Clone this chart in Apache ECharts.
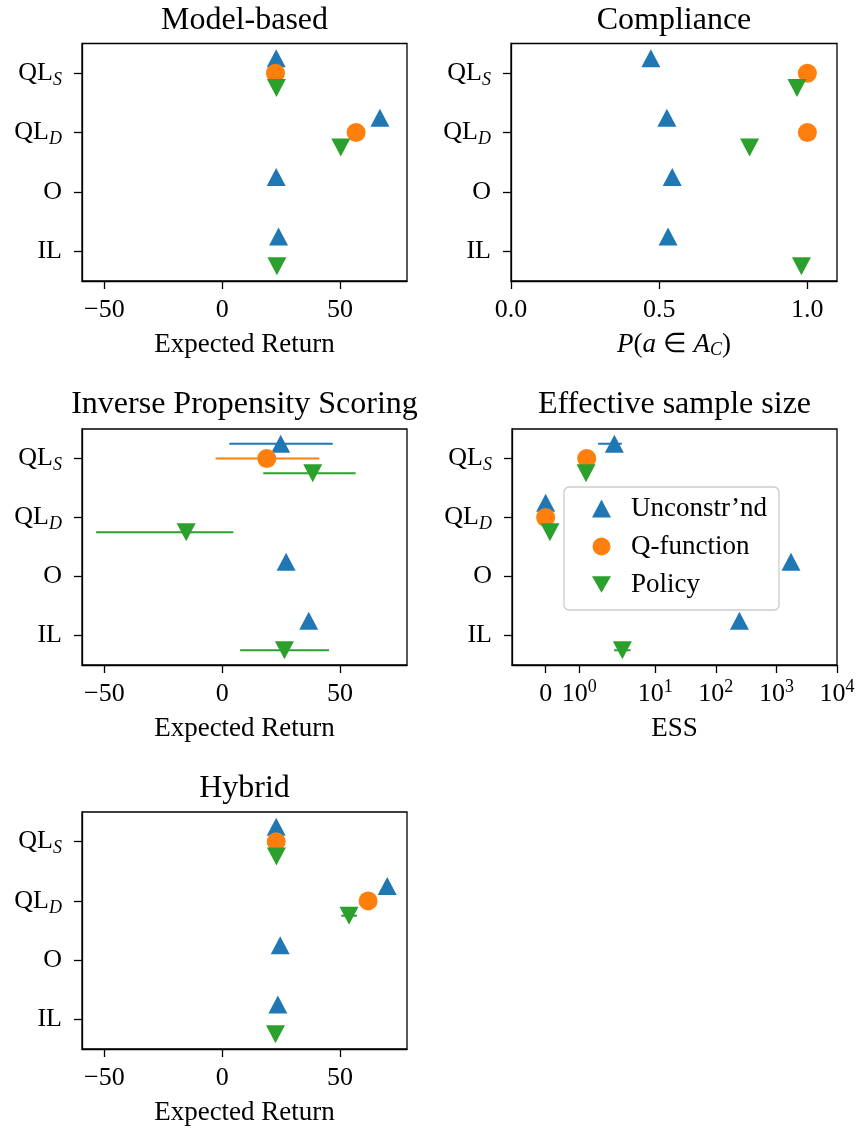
<!DOCTYPE html>
<html lang="en">
<head>
    <meta charset="UTF-8">
    <title>Evaluation overview</title>
    <script src="https://cdn.jsdelivr.net/npm/echarts@6/dist/echarts.min.js"></script>
    <style>
        html, body { margin: 0; padding: 0; background: #fff; }
        #main { width: 858px; height: 1128px; }
    </style>
</head>
<body>
<div id="main"></div>
<script>
    // rows, top to bottom
    var methodNames = ['QL', 'QL', 'O', 'IL'];
    var methodSubs = ['S', 'D', '', ''];
    var seriesNames = ['Unconstr\u2019nd', 'Q-function', 'Policy'];
    var colors = ['#1f77b4', '#ff7f0e', '#2ca02c'];

    // Model-based (expected return)
    var modelUnc = [22.9, 66.9, 22.9, 23.9];
    var modelQ = [22.6, 56.8, null, null];
    var modelPol = [23.0, 50.3, null, 23.2];

    // Compliance P(a in A_C)
    var compUnc = [0.472, 0.526, 0.544, 0.530];
    var compQ = [1.0, 1.0, null, null];
    var compPol = [0.965, 0.805, null, 0.980];

    // Inverse propensity scoring (expected return) + intervals
    var ipsUnc = [24.8, null, 27.1, 36.7];
    var ipsUncErr = [[3.0, 46.9], null, null, null];
    var ipsQ = [18.9, null, null, null];
    var ipsQErr = [[-2.8, 41.2], null, null, null];
    var ipsPol = [38.4, -15.3, null, 26.4];
    var ipsPolErr = [[17.4, 56.6], [-53.5, 4.7], null, [7.6, 45.3]];

    // Effective sample size
    var essUnc = [2.11, 0, 1738, 245];
    var essUncErr = [[1.56, 2.8], null, null, null];
    var essQ = [1.22, 0, null, null];
    var essPol = [1.2, 0.128, null, 2.86];
    var essPolErr = [null, null, null, [2.09, 3.9]];
    var essTicks = [0, 1, 10, 100, 1000, 10000];
    var essTickBase = ['0', '10', '10', '10', '10', '10'];
    var essTickExp = ['', '0', '1', '2', '3', '4'];

    // Hybrid (expected return)
    var hybUnc = [22.9, 70.0, 24.6, 23.6];
    var hybQ = [22.9, 61.9, null, null];
    var hybPol = [23.0, 53.8, null, 22.6];
    var hybPolErr = [null, [50.5, 57.2], null, null];

    var returnTicks = [-50, 0, 50];
    var compTicks = [0, 0.5, 1.0];
    var compTickLabels = ['0.0', '0.5', '1.0'];

    var FONT = 'Liberation Serif';
    var offsets = [-0.25, 0, 0.25];
    var downTri = 'path://M0,0L2,0L1,1.732Z';
    var symbols = ['triangle', 'circle', downTri];
    var symSizes = [[19, 18], 19, [19, 18]];

    // matplotlib symlog, linthresh 2, linscale 1
    var LT = 2, LS = 1 / (1 - 1 / 10);
    function symlog(v) {
        var a = Math.abs(v), s = v < 0 ? -1 : 1;
        return a <= LT ? v * LS : s * LT * (LS + Math.log10(a / LT));
    }
    function ident(v) { return v; }

    function pts(vals, off, tf) {
        var out = [];
        vals.forEach(function (v, i) { if (v != null) out.push([tf(v), i + off]); });
        return out;
    }
    function errs(list, off, tf) {
        var out = [];
        list.forEach(function (e, i) { if (e) out.push([tf(e[0]), tf(e[1]), i + off]); });
        return out;
    }
    function findTick(list, v) {
        for (var i = 0; i < list.length; i++) {
            if (Math.abs(list[i] - v) < 1e-6) return i;
        }
        return 0;
    }

    var grids = [
        {left: 82, top: 43.5, width: 325, height: 237.5},
        {left: 511, top: 43.5, width: 326, height: 237.5},
        {left: 82, top: 429, width: 325, height: 236},
        {left: 512, top: 429, width: 325, height: 236},
        {left: 82, top: 812, width: 325, height: 237}
    ];

    var titles = [
        {text: 'Model-based', x: 244.5, y: 21},
        {text: 'Compliance', x: 674, y: 21},
        {text: 'Inverse Propensity Scoring', x: 244.5, y: 405},
        {text: 'Effective sample size', x: 674.5, y: 405},
        {text: 'Hybrid', x: 244.5, y: 789}
    ];

    var essTickPos = essTicks.map(symlog);

    var panels = [
        {vals: [modelUnc, modelQ, modelPol], err: [null, null, null], tf: ident,
            min: -59.5, max: 78.4, ticks: returnTicks, name: 'Expected Return'},
        {vals: [compUnc, compQ, compPol], err: [null, null, null], tf: ident,
            min: 0, max: 1.1, ticks: compTicks, name: 'comp'},
        {vals: [ipsUnc, ipsQ, ipsPol], err: [ipsUncErr, ipsQErr, ipsPolErr], tf: ident,
            min: -59.5, max: 78.4, ticks: returnTicks, name: 'Expected Return'},
        {vals: [essUnc, essQ, essPol], err: [essUncErr, null, essPolErr], tf: symlog,
            min: symlog(-1), max: symlog(10000), ticks: essTickPos, name: 'ESS'},
        {vals: [hybUnc, hybQ, hybPol], err: [null, null, hybPolErr], tf: ident,
            min: -59.5, max: 78.4, ticks: returnTicks, name: 'Expected Return'}
    ];

    var labelRich = {
        m: {fontFamily: FONT, fontSize: 26, lineHeight: 32, color: '#000'},
        s: {fontFamily: FONT, fontSize: 18, lineHeight: 20, verticalAlign: 'bottom', fontStyle: 'italic', color: '#000'},
        p: {fontFamily: FONT, fontSize: 18, lineHeight: 20, verticalAlign: 'top', color: '#000'}
    };

    var spine = {show: true, onZero: false, lineStyle: {color: '#000', width: 1.3}};
    var tickStyle = {color: '#000', width: 1.3};

    var xAxes = [], yAxes = [], series = [];

    panels.forEach(function (p, gi) {
        var xLabel;
        if (gi === 1) {
            xLabel = function (v) { return '{m|' + compTickLabels[findTick(compTicks, v)] + '}'; };
        } else if (gi === 3) {
            xLabel = function (v) {
                var i = findTick(essTickPos, v);
                return '{m|' + essTickBase[i] + '}' + (essTickExp[i] ? '{p|' + essTickExp[i] + '}' : '');
            };
        } else {
            xLabel = function (v) { return '{m|' + (v < 0 ? '\u2212' + Math.abs(v) : v) + '}'; };
        }
        var nameText = p.name, nameRich = {};
        if (p.name === 'comp') {
            nameText = '{i|P}{n|(}{i|a}{n| \u2208 }{i|A}{c|C}{n|)}';
            nameRich = {
                i: {fontFamily: FONT, fontSize: 27, fontStyle: 'italic', color: '#000'},
                n: {fontFamily: FONT, fontSize: 27, color: '#000'},
                c: {fontFamily: FONT, fontSize: 18, fontStyle: 'italic', lineHeight: 20,
                    verticalAlign: 'bottom', color: '#000'}
            };
        }
        xAxes.push({
            type: 'value', gridIndex: gi, position: 'bottom', min: p.min, max: p.max,
            axisLine: spine,
            splitLine: {show: false},
            axisTick: {show: true, inside: false, customValues: p.ticks, length: 8, lineStyle: tickStyle},
            axisLabel: {customValues: p.ticks, formatter: xLabel, margin: 13, rich: labelRich},
            name: nameText, nameLocation: 'middle', nameGap: 50,
            nameTextStyle: {fontFamily: FONT, fontSize: 27, lineHeight: 28, color: '#000', rich: nameRich}
        });
        yAxes.push({
            type: 'value', gridIndex: gi, position: 'left', min: -0.5, max: 3.5, inverse: true,
            axisLine: spine,
            splitLine: {show: false},
            axisTick: {show: true, inside: false, customValues: [0, 1, 2, 3], length: 8, lineStyle: tickStyle},
            axisLabel: {
                customValues: [0, 1, 2, 3], margin: 20, rich: labelRich,
                formatter: function (v) {
                    var i = Math.round(v);
                    return '{m|' + methodNames[i] + '}' + (methodSubs[i] ? '{s|' + methodSubs[i] + '}' : '');
                }
            }
        });
        for (var k = 0; k < 3; k++) {
            if (p.err[k]) {
                series.push({
                    type: 'custom', name: 'err' + gi + k, xAxisIndex: gi, yAxisIndex: gi,
                    data: errs(p.err[k], offsets[k], p.tf),
                    encode: {x: [0, 1], y: 2},
                    silent: true,
                    renderItem: (function (col) {
                        return function (params, api) {
                            var a = api.coord([api.value(0), api.value(2)]);
                            var b = api.coord([api.value(1), api.value(2)]);
                            return {type: 'line', shape: {x1: a[0], y1: a[1], x2: b[0], y2: b[1]},
                                style: {stroke: col, lineWidth: 2}};
                        };
                    })(colors[k])
                });
            }
            series.push({
                type: 'scatter', name: seriesNames[k], xAxisIndex: gi, yAxisIndex: gi,
                data: pts(p.vals[k], offsets[k], p.tf),
                symbol: symbols[k], symbolSize: symSizes[k],
                itemStyle: {color: colors[k], opacity: 1},
                emphasis: {disabled: true}, silent: true
            });
        }
    });

    var option = {
        animation: false,
        backgroundColor: '#fff',
        title: titles.map(function (t) {
            return {text: t.text, left: t.x, top: t.y - 18, textAlign: 'center', padding: 0,
                textStyle: {fontFamily: FONT, fontSize: 32, lineHeight: 36, fontWeight: 'normal', color: '#000'}};
        }),
        grid: grids.map(function (g) {
            return {left: g.left, top: g.top, width: g.width, height: g.height, show: true,
                borderColor: '#000', borderWidth: 1.3, backgroundColor: 'transparent',
                containLabel: false, outerBoundsMode: 'none'};
        }),
        legend: {
            data: seriesNames, orient: 'vertical', left: 564, top: 487,
            padding: [8, 12, 12, 28], itemGap: 11, itemWidth: 19, itemHeight: 18,
            backgroundColor: 'rgba(255,255,255,0.8)', borderColor: '#cccccc', borderWidth: 1.3, borderRadius: 5,
            selectedMode: false,
            textStyle: {fontFamily: FONT, fontSize: 27, lineHeight: 26, color: '#000', padding: [0, 0, 0, 15]}
        },
        xAxis: xAxes,
        yAxis: yAxes,
        series: series
    };

    var chart = echarts.init(document.getElementById('main'), null, {renderer: 'canvas'});
    chart.setOption(option);
</script>
</body>
</html>
